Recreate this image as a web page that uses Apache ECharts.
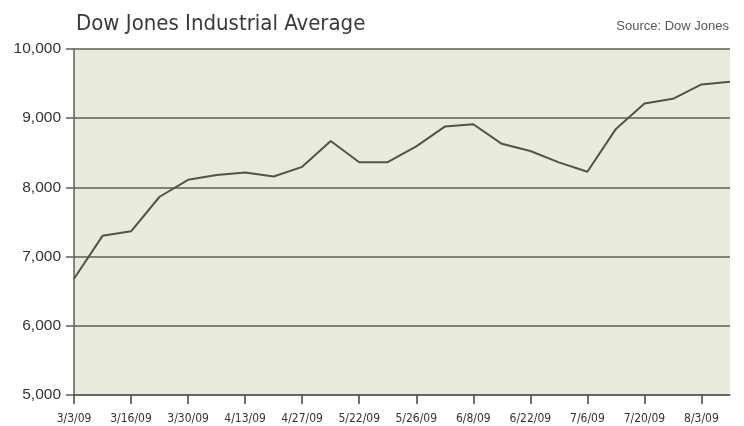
<!DOCTYPE html>
<html>
<head>
<meta charset="utf-8">
<script src="https://cdn.jsdelivr.net/npm/echarts@6/dist/echarts.min.js"></script>
<style>
html,body{margin:0;padding:0;background:#fff;}
#chart{width:744px;height:426px;}
</style>
</head>
<body>
<div id="chart"></div>
<script>
const categories = ['3/3/09','3/9/09','3/16/09','3/23/09','3/30/09','4/6/09','4/13/09','4/20/09','4/27/09','5/4/09','5/22/09','5/18/09','5/26/09','6/1/09','6/8/09','6/15/09','6/22/09','6/29/09','7/6/09','7/13/09','7/20/09','7/27/09','8/3/09','8/10/09'];
const dowValues = [6680, 7300, 7365, 7865, 8110, 8180, 8214, 8157, 8297, 8670, 8364, 8364, 8592, 8879, 8913, 8630, 8526, 8362, 8227, 8845, 9213, 9280, 9488, 9526];
const yTicks = [5000, 6000, 7000, 8000, 9000, 10000];
const titleText = 'Dow Jones Industrial Average';
const sourceText = 'Source: Dow Jones';

const chart = echarts.init(document.getElementById('chart'), null, {renderer:'canvas'});
const gridColor = '#5e5e5a';
chart.setOption({
  animation: false,
  backgroundColor: '#ffffff',
  title: [
    {text: titleText, left: 71, top: 8,
     textStyle: {fontFamily: 'DejaVu Sans Condensed, sans-serif', fontWeight: 'normal', fontSize: 22, color: '#3a3a3a'}},
    {text: sourceText, right: 10, top: 15,
     textStyle: {fontFamily: 'Liberation Sans, Arial, sans-serif', fontWeight: 'normal', fontSize: 13, color: '#555555'}}
  ],
  grid: {left: 74, right: 14, top: 49, bottom: 31, show: true, backgroundColor: '#e9ebdc', borderWidth: 0},
  xAxis: {
    type: 'category',
    data: categories,
    boundaryGap: false,
    axisLine: {show: true, lineStyle: {color: gridColor, width: 1.5}},
    axisTick: {show: true, interval: 1, length: 9, lineStyle: {color: '#444', width: 1.5}},
    axisLabel: {interval: 1, margin: 18, color: '#333333', fontSize: 12,
      fontFamily: 'DejaVu Sans Condensed, sans-serif'},
    splitLine: {show: false}
  },
  yAxis: {
    type: 'value',
    min: yTicks[0],
    max: yTicks[yTicks.length - 1],
    interval: 1000,
    axisLine: {show: true, lineStyle: {color: gridColor, width: 1.5}},
    axisTick: {show: true, length: 8, lineStyle: {color: gridColor, width: 1.5}},
    axisLabel: {margin: 13, color: '#333333', fontSize: 15.5,
      fontFamily: 'Liberation Sans, Arial, sans-serif',
      formatter: v => v.toLocaleString('en-US')},
    splitLine: {show: true, lineStyle: {color: gridColor, width: 1.5}}
  },
  series: [{
    type: 'line',
    data: dowValues,
    symbol: 'none',
    lineStyle: {color: '#5b5049', width: 2},
    z: 5
  }]
});
</script>
</body>
</html>
